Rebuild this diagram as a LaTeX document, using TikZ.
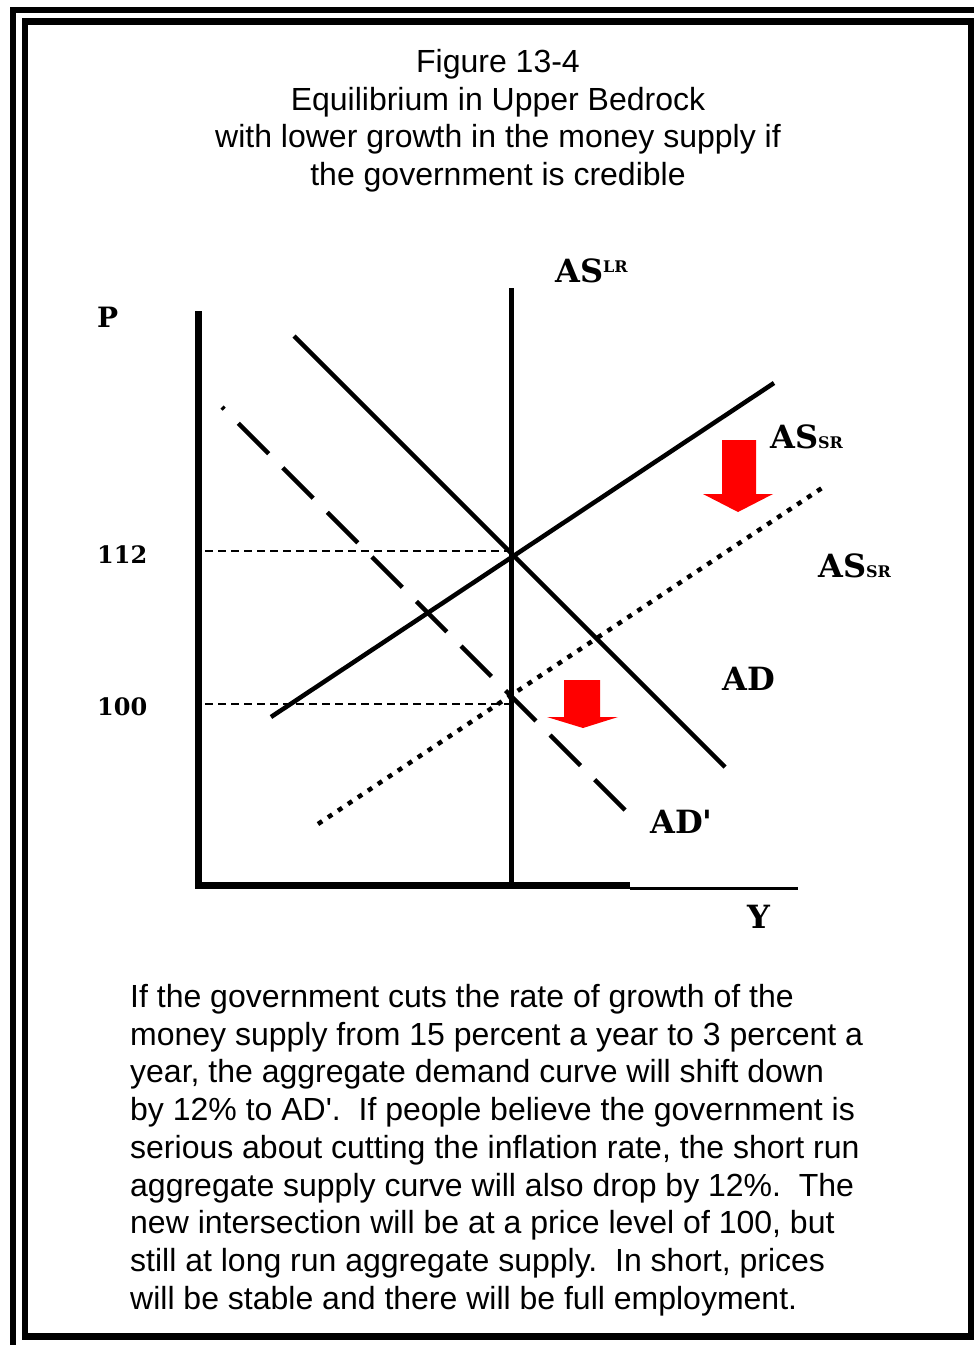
\documentclass[tikz,border=0pt]{standalone}
\usepackage{fontspec}
\setsansfont{Liberation Sans}
\newfontfamily\labfont{DejaVu Serif}
\newcommand{\smallcap}[1]{{\fontsize{16}{16}\selectfont #1}}
\begin{document}
\begin{tikzpicture}[x=1pt,y=-1pt,
frame/.style={line width=6.5pt},
axis/.style={line width=7pt},
curve/.style={line width=4.5pt},
guide/.style={line width=1.4pt,dash pattern=on 8pt off 5pt},
lab/.style={font=\labfont\bfseries\fontsize{32}{32}\selectfont,inner sep=0pt,anchor=base west},
tick/.style={font=\labfont\bfseries\fontsize{24}{24}\selectfont,inner sep=0pt,anchor=base west},
prose/.style={font=\sffamily\fontsize{32}{37.75}\selectfont,inner sep=0pt},
redarrow/.style={fill=red,draw=none}
]
\useasboundingbox (0,0) rectangle (974,1345);
% double frame
\draw[frame] (13,1345) -- (13,10) -- (974,10);
\draw[frame] (25,1336.5) rectangle (971,21.5);
% title
\node[prose,align=center,anchor=north] (title) at (498,49)
  {Figure 13-4\\Equilibrium in Upper Bedrock\\with lower growth in the money supply if\\the government is credible};
% axes
\draw[axis] (198,311) -- (198,888);
\draw[axis] (195,885) -- (630,885);
\draw[line width=3pt] (630,888) -- (798,888);
\draw[line width=5pt] (511,288) -- (511,885);
% price guides
\draw[guide] (205,551) -- (511,551);
\draw[guide] (205,704) -- (511,704);
% curves
\draw[curve] (294,336) -- (725,767);
\draw[curve] (271,717) -- (774,383);
\draw[curve,dash pattern=on 43pt off 20pt,dash phase=40pt] (222,407) -- (630,815);
\draw[curve,dash pattern=on 5pt off 7pt] (318,824) -- (822,488);
% shift arrows
\fill[redarrow] (722,440) -- (756,440) -- (756,494) -- (773,494) -- (738,512) -- (703,494) -- (722,494) -- cycle;
\fill[redarrow] (564,680) -- (600,680) -- (600,717) -- (618,717) -- (583,728) -- (547,717) -- (564,717) -- cycle;
% labels
\node[lab] (aslr) at (555,282) {AS\raisebox{10pt}{\smallcap{LR}}};
\node[lab] (assr) at (770,448) {AS\smallcap{SR}};
\node[lab] (assr2) at (818,577) {AS\smallcap{SR}};
\node[lab] (ad) at (722,690) {AD};
\node[lab] (ad2) at (650,833) {AD\textquotesingle};
\node[lab] (ylab) at (747,928) {Y};
\node[tick,font=\labfont\bfseries\fontsize{28}{28}\selectfont] (plab) at (97,327) {P};
\node[tick] (p112) at (97,563) {112};
\node[tick] (p100) at (97,715) {100};
% caption
\node[prose,align=left,anchor=north west] (note) at (130,984)
  {If the government cuts the rate of growth of the\\money supply from 15 percent a year to 3 percent a\\year, the aggregate demand curve will shift down\\by 12\% to AD\textquotesingle.\ \ If people believe the government is\\serious about cutting the inflation rate, the short run\\aggregate supply curve will also drop by 12\%.\ \ The\\new intersection will be at a price level of 100, but\\still at long run aggregate supply.\ \ In short, prices\\will be stable and there will be full employment.};
\end{tikzpicture}
\end{document}
